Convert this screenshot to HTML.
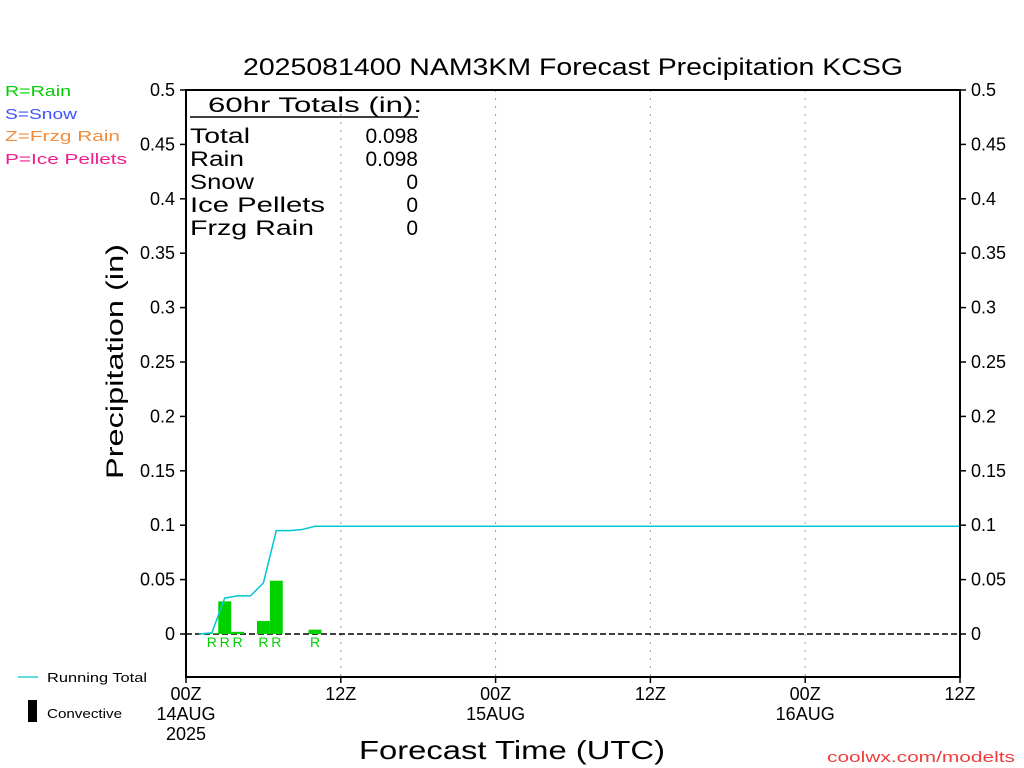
<!DOCTYPE html>
<html><head><meta charset="utf-8"><style>
body{margin:0;background:#fff}
svg{display:block;font-family:"Liberation Sans",sans-serif}
</style></head><body>
<svg id="chart" width="1024" height="768">
<text x="243" y="75" font-size="24" textLength="660" lengthAdjust="spacingAndGlyphs">2025081400 NAM3KM Forecast Precipitation KCSG</text>
<g font-size="15">
<text x="5" y="96" fill="#00d000" textLength="66" lengthAdjust="spacingAndGlyphs">R=Rain</text>
<text x="5" y="119" fill="#3c50ff" textLength="72" lengthAdjust="spacingAndGlyphs">S=Snow</text>
<text x="5" y="141" fill="#f08c3c" textLength="115" lengthAdjust="spacingAndGlyphs">Z=Frzg Rain</text>
<text x="5" y="164" fill="#f01e8c" textLength="122" lengthAdjust="spacingAndGlyphs">P=Ice Pellets</text>
</g>
<g id="grid"></g>
<g id="axes"></g>
<g id="marks"></g>
<rect x="186" y="90" width="774" height="587" fill="none" stroke="#000" stroke-width="2"/>
<g font-size="21">
<text x="208" y="112" textLength="214" lengthAdjust="spacingAndGlyphs">60hr Totals (in):</text>
<line x1="190" y1="117" x2="418" y2="117" stroke="#000" stroke-width="1.5"/>
<text x="190" y="143" textLength="60" lengthAdjust="spacingAndGlyphs">Total</text><text x="418" y="143" text-anchor="end">0.098</text>
<text x="190" y="166" textLength="54" lengthAdjust="spacingAndGlyphs">Rain</text><text x="418" y="166" text-anchor="end">0.098</text>
<text x="190" y="189" textLength="64" lengthAdjust="spacingAndGlyphs">Snow</text><text x="418" y="189" text-anchor="end">0</text>
<text x="190" y="212" textLength="135" lengthAdjust="spacingAndGlyphs">Ice Pellets</text><text x="418" y="212" text-anchor="end">0</text>
<text x="190" y="235" textLength="124" lengthAdjust="spacingAndGlyphs">Frzg Rain</text><text x="418" y="235" text-anchor="end">0</text>
</g>
<text transform="translate(123,362) rotate(-90)" font-size="24" textLength="235" lengthAdjust="spacingAndGlyphs" x="-117" y="0">Precipitation (in)</text>
<text x="359" y="759" font-size="26" textLength="306" lengthAdjust="spacingAndGlyphs">Forecast Time (UTC)</text>
<text x="827" y="762" font-size="15" fill="#f03c3c" textLength="188" lengthAdjust="spacingAndGlyphs">coolwx.com/modelts</text>
<g font-size="13">
<line x1="18" y1="677" x2="38" y2="677" stroke="#00c8d2" stroke-width="1.2"/>
<text x="47" y="682" textLength="100" lengthAdjust="spacingAndGlyphs">Running Total</text>
<rect x="28" y="700" width="9" height="22" fill="#000"/>
<text x="47" y="718" textLength="75" lengthAdjust="spacingAndGlyphs">Convective</text>
</g>
</svg>
<script>
const hours=[2,3,4,6,7,10];
const amounts=[0.0005,0.030,0.002,0.012,0.049,0.004];
const ptypes=["R","R","R","R","R","R"];
const totalHours=[1,2,3,4,5,6,7,8,9,10,60];
const totalValues=[0,0.001,0.033,0.035,0.035,0.047,0.095,0.095,0.096,0.099,0.099];
const yTicks=[0,0.05,0.1,0.15,0.2,0.25,0.3,0.35,0.4,0.45,0.5];
const yTickLabels=["0","0.05","0.1","0.15","0.2","0.25","0.3","0.35","0.4","0.45","0.5"];
const xTickHours=[0,12,24,36,48,60];
const xTickLabels=["00Z","12Z","00Z","12Z","00Z","12Z"];
const xDateLabels=["14AUG","","15AUG","","16AUG",""];
const NS="http://www.w3.org/2000/svg";
const X=h=>186+h*774/60;
const Y=v=>634-v*1088;
function mk(tag,attrs,parent,txt){const e=document.createElementNS(NS,tag);for(const k in attrs)e.setAttribute(k,attrs[k]);if(txt!==undefined)e.textContent=txt;document.getElementById(parent).appendChild(e);return e;}
yTicks.forEach((v,i)=>{
 let t=mk('line',{x1:180,x2:186,y1:Y(v),y2:Y(v),stroke:'#000','stroke-width':1.5},'axes');
 
 
 t=mk('line',{x1:960,x2:966,y1:Y(v),y2:Y(v),stroke:'#000','stroke-width':1.5},'axes');
 
 
 let l=mk('text',{x:175,y:Y(v)+6,'font-size':18,'text-anchor':'end'},'axes',yTickLabels[i]);
 
 
 l=mk('text',{x:971,y:Y(v)+6,'font-size':18},'axes',yTickLabels[i]);
 
 
});
xTickHours.forEach((h,i)=>{
 if(i>0&&i<xTickHours.length-1){const g=mk('line',{x1:X(h),x2:X(h),y1:90,y2:677,stroke:'#999','stroke-dasharray':'2,6'},'grid');
 
 }
 let t=mk('line',{x1:X(h),x2:X(h),y1:677,y2:683,stroke:'#000','stroke-width':1.5},'axes');
 
 
 let l=mk('text',{x:X(h),y:700,'font-size':18,'text-anchor':'middle'},'axes',xTickLabels[i]);
 
 
 if(xDateLabels[i]){l=mk('text',{x:X(h),y:720,'font-size':18,'text-anchor':'middle'},'axes',xDateLabels[i]);
 
 }
});
let yr=mk('text',{x:X(0),y:740,'font-size':18,'text-anchor':'middle'},'axes','2025');


let z=mk('line',{x1:186,x2:960,y1:Y(0),y2:Y(0),stroke:'#000','stroke-width':1.5,'stroke-dasharray':'6,3'},'marks');


const bw=774/60;
hours.forEach((h,i)=>{
 const b=mk('rect',{x:X(h)-bw/2,y:Y(amounts[i]),width:bw,height:Y(0)-Y(amounts[i]),fill:'#00d200'},'marks');
 
 
 const l=mk('text',{x:X(h),y:647,'font-size':14,fill:'#00d000','text-anchor':'middle'},'marks',ptypes[i]);
 
 
});
const pts=totalHours.map((h,i)=>X(h)+','+Y(totalValues[i])).join(' ');
const pl=mk('polyline',{points:pts,fill:'none',stroke:'#00c8d2','stroke-width':1.5},'marks');


</script>
</body></html>
